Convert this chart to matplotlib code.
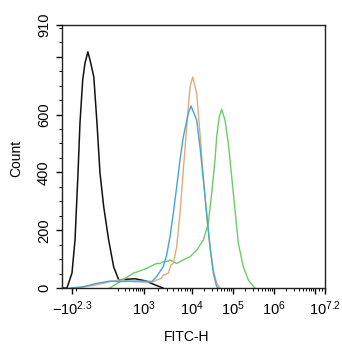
import numpy as np
import matplotlib
matplotlib.use('Agg')
import matplotlib.pyplot as plt
from matplotlib.ticker import FixedLocator

plt.rcParams['font.family'] = ['Liberation Sans', 'DejaVu Sans']
plt.rcParams['mathtext.fontset'] = 'custom'
plt.rcParams['mathtext.rm'] = 'Liberation Sans'
plt.rcParams['mathtext.it'] = 'Liberation Sans'

# ヒストグラムのデータ (FITC-H強度, カウント)
black_x = [-1000, -450, -200, -120, -69, -45, -19, 0, 9, 16, 29, 41, 54, 73, 104, 146, 203, 303, 569, 1049, 1334, 1866, 2487]
black_y = [0, 0, 52, 166, 398, 571, 720, 778, 817, 789, 730, 571, 398, 280, 166, 73, 28, 30, 32, 25, 18, 8, 0]

blue_x = [-280, -14, 40, 114, 220, 511, 1138, 1446, 1841, 2523, 2970, 3480, 4075, 4795, 5623, 6590, 8375, 9530,
          13020, 15660, 18880, 22850, 27490, 33110, 40000, 43750]
blue_y = [0, 4, 16, 24, 22, 24, 24, 22, 40, 74, 115, 177, 258, 350, 443, 523, 604, 630,
          581, 489, 374, 258, 143, 51, 5, 0]

orange_x = [-89, 40, 114, 220, 511, 1138, 1562, 1841, 2339, 2523, 3210, 3650, 4075, 4795, 5623, 6590, 7760, 9085,
            10400, 13020, 15660, 18880, 22850, 27490, 33110, 40000, 48180]
orange_y = [0, 11, 22, 28, 22, 20, 22, 28, 34, 45, 51, 80, 85, 143, 258, 408, 558, 696,
            730, 674, 535, 385, 247, 143, 62, 16, 0]

green_x = [114, 220, 511, 1138, 1334, 1841, 2154, 2523, 3210, 3480, 4795, 6590, 9085, 13020, 18880, 25000, 30200,
           36400, 40000, 46300, 52980, 63800, 76800, 92900, 111900, 134700, 178300, 236000, 312600, 344000]
green_y = [0, 22, 51, 68, 74, 85, 85, 91, 93, 97, 85, 97, 108, 131, 166, 224, 328,
           443, 523, 593, 618, 581, 501, 385, 270, 155, 74, 28, 6, 0]

x_ticks = [-10**2.3, 1e3, 1e4, 1e5, 1e6, 1e7, 10**7.2]
x_ticklabels = [r'$\mathregular{-10^{2.3}}$', r'$\mathregular{10^{3}}$', r'$\mathregular{10^{4}}$',
                r'$\mathregular{10^{5}}$', r'$\mathregular{10^{6}}$', '',
                r'$\mathregular{10^{7.2}}$']
y_ticks = [0, 200, 400, 600, 800, 910]
y_ticklabels = ['0', '200', '400', '600', '', '910']

# logicle風の軸 (asinh + 区分線形)
C = 50.0
anchor_v = np.array([-1000, -200, 0, 1e3, 1e4, 1e5, 1e6, 1e7, 10**7.2])
anchor_u = np.arcsinh(anchor_v / C)
anchor_p = np.array([0, 10, 23, 82, 130, 171, 212, 253, 263]) / 263.0


def forward(x):
    return np.interp(np.arcsinh(np.asarray(x, dtype=float) / C), anchor_u, anchor_p)


def inverse(p):
    return C * np.sinh(np.interp(np.asarray(p, dtype=float), anchor_p, anchor_u))


fig = plt.figure(figsize=(3.42, 3.5), dpi=100)
ax = fig.add_axes([62 / 342, 1 - 288 / 350, 263 / 342, 263 / 350])
ax.set_xscale('function', functions=(forward, inverse))

ax.plot(black_x, black_y, color='#111111', lw=1.1)
ax.plot(green_x, green_y, color='#66d060', lw=1.0)
ax.plot(orange_x, orange_y, color='#eaa876', lw=1.0)
ax.plot(blue_x, blue_y, color='#3fa8d8', lw=1.0)

ax.set_xlim(-1000, 10**7.2)
ax.set_ylim(0, 910)

ax.xaxis.set_major_locator(FixedLocator(x_ticks))
ax.set_xticklabels(x_ticklabels)
minor = [-100]
for k in range(2, 7):
    minor += [m * 10**k for m in range(2, 10)]
minor += [m * 10**7 for m in [1.2, 1.4]]
ax.xaxis.set_minor_locator(FixedLocator(minor))

ax.yaxis.set_major_locator(FixedLocator(y_ticks))
ax.set_yticklabels(y_ticklabels, rotation=90, va='center')
ax.yaxis.set_minor_locator(FixedLocator([50, 100, 150, 250, 300, 350, 450, 500, 550, 650, 700, 750, 850, 900]))

ax.tick_params(axis='both', which='major', length=4, width=1, labelsize=10.5, direction='out')
ax.tick_params(axis='both', which='minor', length=2, width=0.7, direction='out')
ax.tick_params(axis='y', pad=4)
ax.tick_params(axis='x', pad=4)
for s in ax.spines.values():
    s.set_linewidth(1.0)
    s.set_color('#222222')

fig.text(16 / 342, 1 - 158 / 350, 'Count', rotation=90, ha='center', va='center', fontsize=10)
fig.text(187 / 342, 1 - 337 / 350, 'FITC-H', ha='center', va='center', fontsize=10)

plt.savefig('out.png', dpi=100)
